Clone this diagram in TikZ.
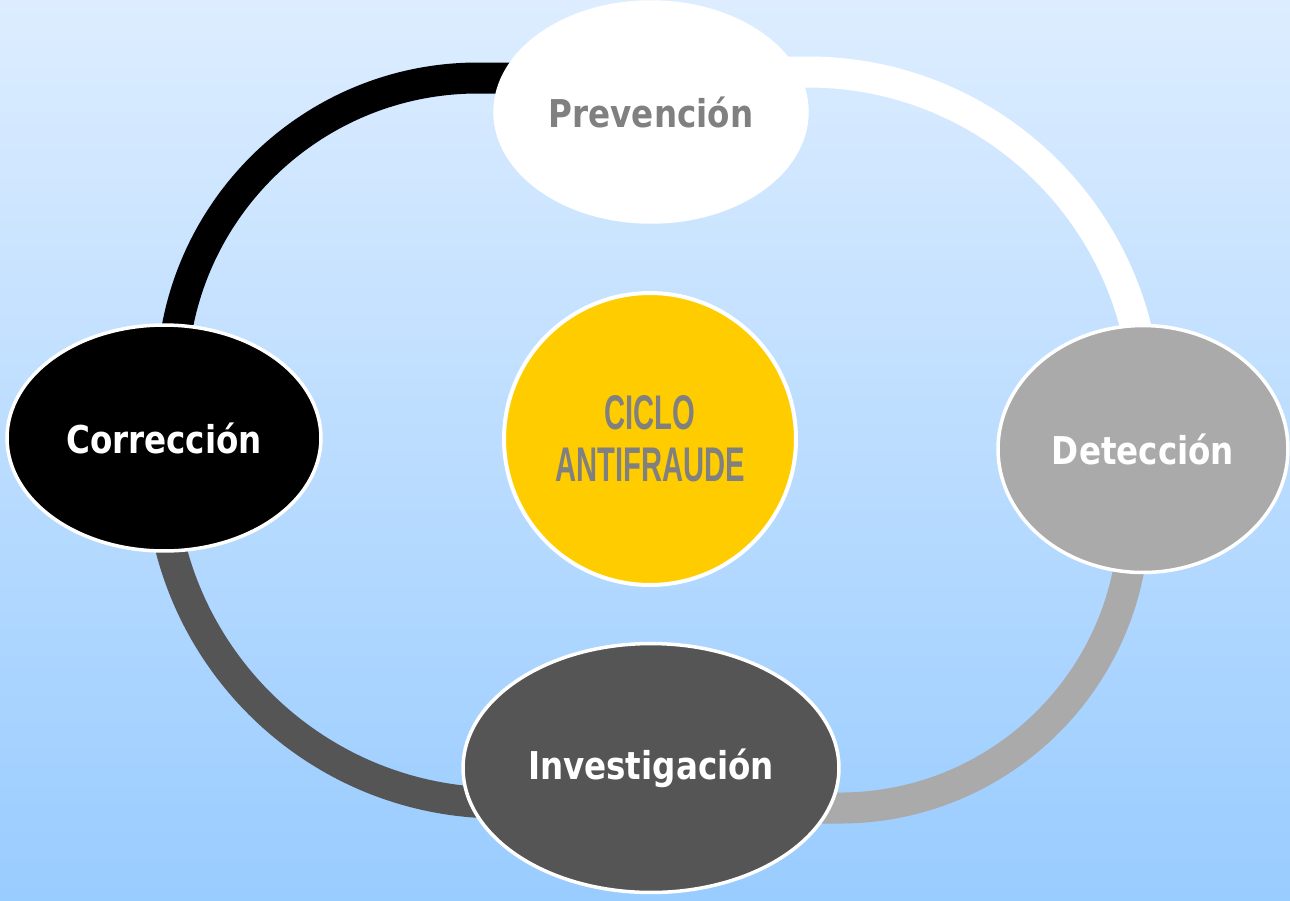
\documentclass[tikz,border=0pt]{standalone}
\usepackage{fontspec}
\setmainfont{DejaVu Sans}[FakeStretch=0.85]
\newfontfamily\cyclefont{Liberation Sans}[FakeStretch=0.6]
\usetikzlibrary{shapes.geometric}

\definecolor{bgtop}{RGB}{221,237,255}
\definecolor{bgbottom}{RGB}{153,204,255}
\definecolor{darkstage}{RGB}{85,85,85}
\definecolor{lightstage}{RGB}{170,170,170}
\definecolor{cycleyellow}{RGB}{255,204,0}
\definecolor{labelgray}{RGB}{128,128,128}

\tikzset{
  stage/.style={ellipse, draw=white, line width=0.07cm, inner sep=0pt,
    font=\bfseries\fontsize{21.8}{24}\selectfont, text=white},
  ring/.style={line width=0.62cm}
}

\begin{document}
\begin{tikzpicture}[x=0.02cm, y=-0.02cm]
    % Background with the light blue gradient
    \shade[top color=bgtop, bottom color=bgbottom] (0,0) rectangle (1290,900);
    \useasboundingbox (0,0) rectangle (1290,900);

    % Ring segments, drawn under the stages
    \draw[ring, black] (172,384) arc[start angle=180, end angle=270, radius=306] -- (560,78);
    \draw[ring, white] (700,72) -- (808,72) arc[start angle=270, end angle=360, radius=338];
    \draw[ring, lightstage] (1134,514) arc[start angle=0, end angle=90, radius=294] -- (700,808);
    \draw[ring, darkstage] (160,463) arc[start angle=180, end angle=90, radius=340] -- (600,803);

    % The four stages
    \node[stage, fill=white, text=labelgray, minimum width=6.24cm, minimum height=4.4cm] (prev) at (651,112) {Prevención};
    \node[stage, fill=lightstage, minimum width=5.8cm, minimum height=4.94cm] (det) at (1143,449) {Detección};
    \node[stage, fill=darkstage, minimum width=7.52cm, minimum height=4.98cm] (inv) at (651,768) {Investigación};
    \node[stage, fill=black, minimum width=6.28cm, minimum height=4.52cm] (corr) at (164,438) {Corrección};

    % Centre of the cycle
    \node[circle, draw=white, line width=0.08cm, fill=cycleyellow, minimum size=5.84cm, inner sep=0pt,
        text=labelgray, align=center, font=\cyclefont\bfseries\fontsize{27.7}{29.5}\selectfont] (ciclo) at (650,439) {CICLO\\ANTIFRAUDE};
\end{tikzpicture}
\end{document}
